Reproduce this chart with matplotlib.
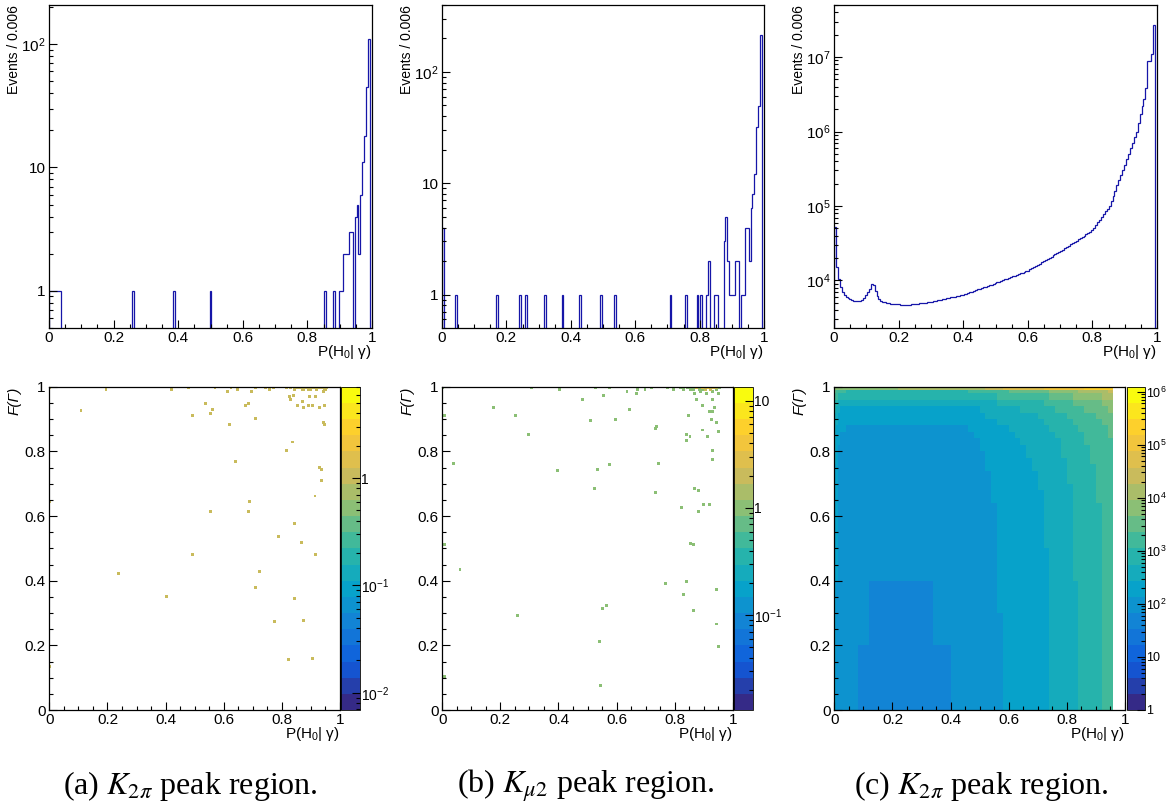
import numpy as np
import matplotlib
matplotlib.use("Agg")
import matplotlib.pyplot as plt
from matplotlib.colors import LinearSegmentedColormap, LogNorm
from matplotlib.ticker import (LogLocator, MultipleLocator, FuncFormatter,
                               NullFormatter)

W, H = 1168, 810
plt.rcParams.update({
    "font.family": ["Liberation Sans", "DejaVu Sans"],
    "mathtext.fontset": "custom",
    "mathtext.rm": "Liberation Sans",
    "mathtext.it": "Liberation Sans:italic",
    "mathtext.bf": "Liberation Sans:bold",
})

# --- data ---------------------------------------------------------------------
N_BINS = 167                     # 0..1 in bins of ~0.006

# (a) K2pi peak region: non-empty bins of P(H0|gamma)
a_bins = [0, 1, 2, 3, 4, 5, 43, 64, 83, 142, 147, 150, 151, 152, 153, 154,
          155, 156, 158, 159, 160, 161, 162, 163, 164, 165]
a_counts = [1, 1, 1, 1, 1, 1, 1, 1, 1, 1, 1, 1, 1, 2, 2, 2,
            3, 3, 4, 5, 2, 6, 11, 18, 45, 110]

# (b) Kmu2 peak region
b_bins = [0, 7, 28, 40, 43, 53, 62, 71, 82, 89, 118, 126, 132, 134, 137, 138,
          141, 142, 146, 147, 148, 149, 150, 151, 152, 153, 155, 156, 157, 158,
          159, 160, 161, 162, 163, 164, 165]
b_counts = [4, 1, 1, 1, 1, 1, 1, 1, 1, 1, 1, 1, 1, 1, 1, 2,
            1, 1, 3, 5, 2, 1, 1, 1, 2, 2, 1, 1, 4, 4,
            2, 6, 8, 12, 32, 49, 215]

# (c) full sample, every bin
c_counts = [
    52000, 15000, 10500, 8100, 7100, 6300, 6000, 5750, 5560, 5430,
    5370, 5310, 5250, 5310, 5500, 5890, 6310, 6920, 7760, 8910,
    8810, 7240, 6170, 5620, 5370, 5190, 5070, 5010, 4950, 4900,
    4840, 4810, 4790, 4760, 4740, 4720, 4700, 4660, 4690, 4720,
    4760, 4790, 4830, 4870, 4910, 4950, 5000, 5050, 5100, 5150,
    5200, 5270, 5340, 5410, 5480, 5550, 5620, 5700, 5770, 5850,
    5920, 6000, 6080, 6160, 6240, 6330, 6410, 6500, 6640, 6790,
    6940, 7090, 7250, 7410, 7570, 7740, 7910, 8080, 8260, 8440,
    8630, 8820, 9010, 9200, 9410, 9630, 9860, 10090, 10320, 10560,
    10810, 11060, 11320, 11580, 11850, 12130, 12410, 12700, 13000, 13300,
    13600, 14100, 14600, 15130, 15680, 16250, 16850, 17460, 18100, 18760,
    19440, 20150, 20890, 21650, 22440, 23260, 24110, 25000, 26000, 27050,
    28140, 29270, 30450, 31680, 32960, 34290, 35670, 37110, 38610, 40160,
    41780, 43470, 45220, 47000, 51100, 55600, 60400, 65700, 71500, 77700,
    84500, 91900, 100000, 117000, 137000, 161000, 189000, 221000, 259000, 304000,
    355000, 422000, 502000, 597000, 709000, 843000, 1000000, 1300000, 1700000, 2200000,
    2700000, 3900000, 8900000, 8900000, 11000000, 27000000, 0]

# 2D (a): single entries, P(H0|gamma) vs F(Gamma)
sa_x = [0.002, 0.195, 0.42, 0.48, 0.57, 0.625, 0.648, 0.708, 0.745, 0.757, 0.77,
        0.816, 0.83, 0.845, 0.86, 0.87, 0.88, 0.89, 0.90, 0.91, 0.92, 0.93, 0.94,
        0.95, 0.955, 0.85, 0.875, 0.90, 0.925, 0.945,
        0.109, 0.237, 0.404, 0.493, 0.493, 0.536, 0.553, 0.561, 0.553, 0.613,
        0.619, 0.639, 0.674, 0.685, 0.685, 0.690, 0.697, 0.708, 0.710, 0.722,
        0.774, 0.788, 0.817, 0.823, 0.835, 0.826, 0.830, 0.839, 0.845, 0.842,
        0.853, 0.866, 0.872, 0.876, 0.876, 0.891, 0.894, 0.906, 0.906, 0.914,
        0.917, 0.917, 0.931, 0.931, 0.937, 0.937, 0.943, 0.948, 0.948, 0.943,
        0.002, 0.002]
sa_y = [0.997, 0.99, 0.99, 0.997, 0.997, 0.997, 0.99, 0.997, 0.997, 0.99, 0.997,
        0.997, 0.997, 0.99, 0.997, 0.99, 0.997, 0.99, 0.997, 0.997, 0.99, 0.997,
        0.997, 0.99, 0.997, 0.997, 0.99, 0.99, 0.997, 0.99,
        0.925, 0.423, 0.351, 0.481, 0.912, 0.948, 0.918, 0.930, 0.613, 0.985,
        0.884, 0.770, 0.943, 0.948, 0.613, 0.644, 0.985, 0.901, 0.379, 0.428,
        0.273, 0.536, 0.804, 0.155, 0.829, 0.971, 0.961, 0.974, 0.577, 0.345,
        0.943, 0.518, 0.954, 0.278, 0.936, 0.943, 0.971, 0.943, 0.160, 0.662,
        0.969, 0.482, 0.936, 0.751, 0.745, 0.709, 0.890, 0.884, 0.943, 0.985,
        0.644, 0.136]

# 2D (b): entries (most single, a few stacked near the top-right corner)
sb_x = [0.0, 0.308, 0.403, 0.529, 0.577, 0.636, 0.669, 0.673, 0.698, 0.721,
        0.776, 0.796, 0.819, 0.83, 0.845, 0.855, 0.865, 0.875, 0.885, 0.895,
        0.905, 0.915, 0.925, 0.935, 0.945, 0.955, 0.87, 0.89, 0.91, 0.93, 0.95,
        0.006, 0.006, 0.006, 0.038, 0.061, 0.176, 0.253, 0.258, 0.296, 0.397,
        0.482, 0.511, 0.524, 0.535, 0.541, 0.546, 0.552, 0.555, 0.566, 0.577,
        0.597, 0.643, 0.667, 0.733, 0.738, 0.735, 0.745, 0.770, 0.824, 0.830,
        0.842, 0.842, 0.842, 0.847, 0.853, 0.856, 0.864, 0.864, 0.874, 0.870,
        0.882, 0.882, 0.897, 0.896, 0.901, 0.914, 0.920, 0.920, 0.931, 0.928,
        0.931, 0.931, 0.936, 0.931, 0.945, 0.945, 0.945, 0.951, 0.951,
        0.875, 0.895, 0.915, 0.935, 0.905, 0.925, 0.945]
sb_y = [0.997, 0.997, 0.99, 0.997, 0.997, 0.985, 0.978, 0.99, 0.99, 0.997,
        0.997, 0.99, 0.997, 0.99, 0.997, 0.99, 0.99, 0.997, 0.99, 0.99,
        0.997, 0.997, 0.99, 0.997, 0.99, 0.997, 0.978, 0.985, 0.978, 0.985, 0.978,
        0.912, 0.513, 0.105, 0.763, 0.435, 0.936, 0.912, 0.291, 0.853, 0.740,
        0.961, 0.895, 0.686, 0.745, 0.213, 0.077, 0.314, 0.972, 0.322, 0.758,
        0.900, 0.930, 0.979, 0.871, 0.876, 0.673, 0.763, 0.392, 0.626, 0.358,
        0.397, 0.853, 0.835, 0.912, 0.847, 0.515, 0.512, 0.309, 0.961, 0.686,
        0.680, 0.613, 0.866, 0.943, 0.636, 0.845, 0.636, 0.923, 0.923, 0.900,
        0.804, 0.775, 0.936, 0.961, 0.889, 0.373, 0.266, 0.860, 0.196,
        0.997, 0.997, 0.997, 0.997, 0.99, 0.99, 0.997]
sb_w = [1] * 90 + [3, 4, 5, 3, 2, 2, 2]

# 2D (c): log10 counts, x-profile + y-profile, own top row (F = 1)
c2_x_edges = [0, 0.006, 0.012] + [round(0.02 * k, 2) for k in range(1, 49)]
c2_y_edges = [round(0.02 * k, 2) for k in range(50)] + [0.99, 1.0]
c2_xlog = [2.35, 2.15, 1.98,
           1.90, 1.87, 1.87, 1.86, 1.86, 1.85, 1.85, 1.85, 1.85, 1.85,
           1.85, 1.85, 1.85, 1.85, 1.85, 1.85, 1.86, 1.86, 1.86, 1.87,
           1.87, 1.88, 1.91, 1.95, 2.00, 2.06, 2.12, 2.16, 2.19, 2.22,
           2.25, 2.28, 2.32, 2.36, 2.40, 2.45, 2.51, 2.57, 2.63, 2.70,
           2.76, 2.82, 2.88, 2.95, 3.03, 3.10, 3.18]
c2_ylog = ([-0.035] * 10 + [-0.03] * 5 + [-0.025] * 5 + [-0.015] * 5 +
           [-0.005] * 5 +
           [0.0, 0.01, 0.02, 0.03, 0.04, 0.05, 0.06, 0.08, 0.10, 0.12,
            0.14, 0.17, 0.20, 0.24, 0.30, 0.38, 0.48, 0.62, 0.90, 1.15])
c2_toplog = [3.75, 3.75, 3.75,
             3.75, 3.76, 3.77, 3.78, 3.79, 3.80, 3.82, 3.84, 3.86, 3.88,
             3.98, 4.00, 4.02, 4.04, 4.06, 4.08, 4.10, 4.12, 4.14, 4.16,
             4.18, 4.20, 4.22, 4.24, 4.26, 4.30, 4.40, 4.50, 4.60, 4.65,
             4.70, 4.74, 4.78, 4.82, 4.86, 4.90, 4.94, 4.98, 5.02, 5.06,
             5.10, 5.14, 5.18, 5.22, 5.25, 5.28, 5.30]

captions = [r"(a) $K_{2\pi}$ peak region.", r"(b) $K_{\mu2}$ peak region.",
            r"(c) $K_{2\pi}$ peak region."]

# ROOT kBird palette, 20 contour levels
stops = [0.0, 0.125, 0.25, 0.375, 0.5, 0.625, 0.75, 0.875, 1.0]
red = [0.2082, 0.0592, 0.0780, 0.0232, 0.1802, 0.5301, 0.8186, 0.9956, 0.9764]
green = [0.1664, 0.3599, 0.5041, 0.6419, 0.7178, 0.7492, 0.7328, 0.7862, 0.9832]
blue = [0.5293, 0.8684, 0.8385, 0.7914, 0.6425, 0.4662, 0.3499, 0.1968, 0.0539]
bird = LinearSegmentedColormap.from_list(
    "bird", list(zip(stops, zip(red, green, blue))), N=256).resampled(20)

LINE = "#1616a8"
FS = 11


def px_axes(l, t, r, b):
    return fig.add_axes([l / W, 1 - b / H, (r - l) / W, (b - t) / H])


def root_log(v, pos):
    e = int(round(np.log10(v)))
    if e == 0:
        return "1"
    if e == 1:
        return "10"
    return rf"$10^{{{e}}}$"


def style_x(ax):
    ax.set_xlim(0, 1)
    ax.xaxis.set_major_locator(MultipleLocator(0.2))
    ax.xaxis.set_minor_locator(MultipleLocator(0.05))
    ax.xaxis.set_major_formatter(FuncFormatter(lambda v, p: f"{v:g}"))
    ax.tick_params(which="both", direction="in", top=False, right=False,
                   labelsize=FS, pad=2.5, width=0.8)
    ax.tick_params(which="major", length=6)
    ax.tick_params(which="minor", length=3)
    for s in ax.spines.values():
        s.set_linewidth(0.9)
    ax.text(1.0, -0.047, r"P(H$_0$| γ)", transform=ax.transAxes,
            ha="right", va="top", fontsize=FS)


def log_y(ax):
    ax.set_yscale("log")
    ax.yaxis.set_major_locator(LogLocator(10, numticks=20))
    ax.yaxis.set_minor_locator(LogLocator(10, subs=np.arange(2, 10), numticks=20))
    ax.yaxis.set_major_formatter(FuncFormatter(root_log))
    ax.yaxis.set_minor_formatter(NullFormatter())


fig = plt.figure(figsize=(W / 100, H / 100), dpi=100)
edges = np.linspace(0, 1, N_BINS + 1)

# --- top row: 1D histograms ----------------------------------------------------
tops = [(49, 372), (442, 764), (834, 1157)]
hists = []
for bins_, counts_ in [(a_bins, a_counts), (b_bins, b_counts)]:
    h = np.zeros(N_BINS)
    h[bins_] = counts_
    hists.append(h)
hists.append(np.array(c_counts, dtype=float))
ylims = [(0.5, 207), (0.5, 400), (2300, 5.0e7)]

for (l, r), h, yl in zip(tops, hists, ylims):
    ax = px_axes(l, 5, r, 328)
    vals = np.where(h > 0, h, 1e-3)
    ax.stairs(vals, edges, baseline=1e-3, color=LINE, lw=0.9)
    log_y(ax)
    ax.set_ylim(*yl)
    style_x(ax)
    ax.text(-35 / (r - l), 1.0, "Events / 0.006", rotation=90,
            transform=ax.transAxes, ha="center", va="top", fontsize=10)

# --- bottom row: 2D maps -------------------------------------------------------
bots = [(49.3, 340, 341.3, 360), (442.3, 732.7, 734, 752.7),
        (834.3, 1125, 1126.7, 1145)]
norms = [LogNorm(0.0069, 7.1), LogNorm(0.013, 13.5), LogNorm(1, 1.24e6)]

for i, ((l, r, cl, cr), norm) in enumerate(zip(bots, norms)):
    ax = px_axes(l, 386.7, r, 710)
    cax = px_axes(cl, 386.7, cr, 710)
    if i == 0:
        m = ax.scatter(sa_x, sa_y, c=np.ones(len(sa_x)), cmap=bird, norm=norm,
                       marker="s", s=4.5, linewidths=0)
    elif i == 1:
        m = ax.scatter(sb_x, sb_y, c=sb_w, cmap=bird, norm=norm,
                       marker="s", s=4.5, linewidths=0)
    else:
        z = np.add.outer(np.array(c2_ylog), np.array(c2_xlog))
        z = np.vstack([z, np.array(c2_toplog)])
        m = ax.pcolormesh(c2_x_edges, c2_y_edges, 10 ** z, cmap=bird,
                          norm=norm, shading="flat")
    ax.set_ylim(0, 1)
    ax.yaxis.set_major_locator(MultipleLocator(0.2))
    ax.yaxis.set_minor_locator(MultipleLocator(0.05))
    ax.yaxis.set_major_formatter(FuncFormatter(lambda v, p: f"{v:g}"))
    style_x(ax)
    ax.text(-35 / (r - l), 1.0, "F(Γ)", rotation=90, style="italic",
            transform=ax.transAxes, ha="center", va="top", fontsize=11)

    cb = fig.colorbar(m, cax=cax)
    cb.outline.set_linewidth(0.6)
    cax.yaxis.set_major_locator(LogLocator(10, numticks=20))
    cax.yaxis.set_minor_locator(LogLocator(10, subs=np.arange(2, 10), numticks=20))
    cax.yaxis.set_major_formatter(FuncFormatter(root_log))
    cax.yaxis.set_minor_formatter(NullFormatter())
    cax.tick_params(which="both", direction="in", right=True, left=False,
                    labelsize=10 if i < 2 else 9, pad=1, width=0.8)
    cax.tick_params(which="major", length=6)
    cax.tick_params(which="minor", length=3)

# --- captions -------------------------------------------------------------------
for cx, txt in zip([190, 586, 981], captions):
    fig.text(cx / W, 1 - 786 / H, txt, ha="center", va="center",
             fontsize=23, fontfamily="Liberation Serif", math_fontfamily="stix")

fig.savefig("out.png", dpi=100)
